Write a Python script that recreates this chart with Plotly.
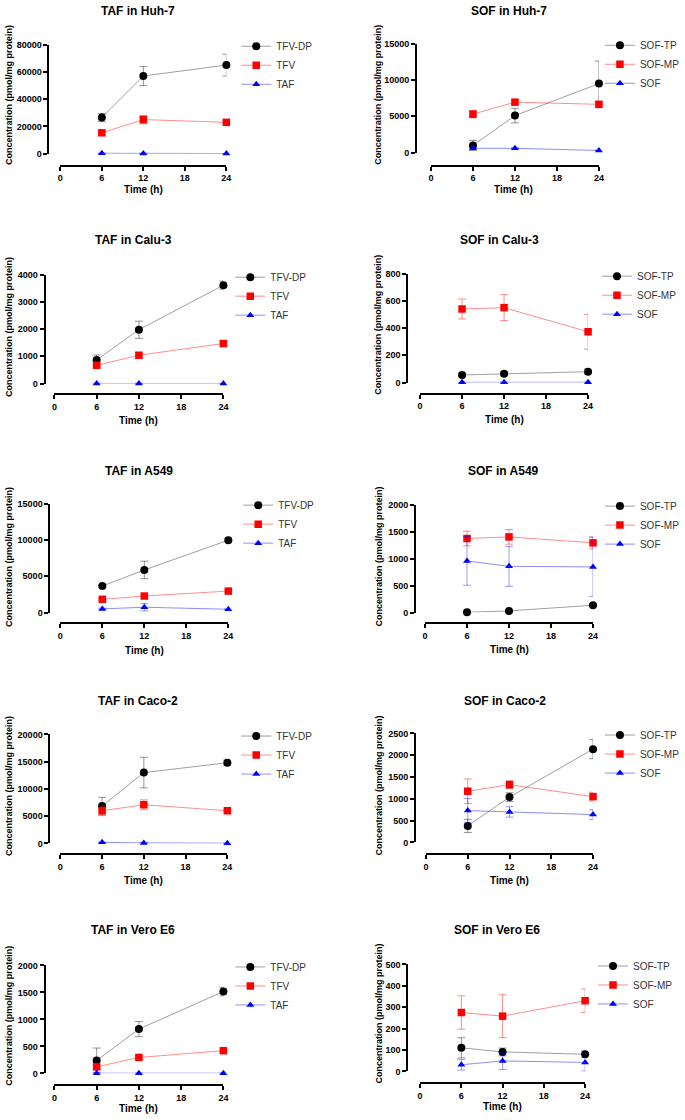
import plotly.graph_objects as go

W, H = 685, 1120
FONT = "Liberation Sans, Arial, sans-serif"

# ---------------- data ----------------
TIME_H = [6, 12, 24]
X_TICKS = [0, 6, 12, 18, 24]
TAF_SERIES = ["TFV-DP", "TFV", "TAF"]
SOF_SERIES = ["SOF-TP", "SOF-MP", "SOF"]

TITLES = ["TAF in Huh-7", "SOF in Huh-7", "TAF in Calu-3", "SOF in Calu-3",
          "TAF in A549", "SOF in A549", "TAF in Caco-2", "SOF in Caco-2",
          "TAF in Vero E6", "SOF in Vero E6"]
Y_MAX = [80000, 15000, 4000, 800, 15000, 2000, 20000, 2500, 2000, 500]
Y_STEP = [20000, 5000, 1000, 200, 5000, 500, 5000, 500, 500, 100]

# Huh-7
huh7_tfvdp = [26500, 57000, 65000];  huh7_tfvdp_sd = [3000, 7000, 8000]
huh7_tfv = [15300, 25000, 23000];    huh7_tfv_sd = [1500, 3000, 1000]
huh7_taf = [300, 200, 100];          huh7_taf_sd = [100, 100, 50]
huh7_softp = [1000, 5100, 9500];     huh7_softp_sd = [700, 1000, 3100]
huh7_sofmp = [5300, 6950, 6650];     huh7_sofmp_sd = [500, 300, 400]
huh7_sof = [600, 600, 300];          huh7_sof_sd = [80, 60, 50]
# Calu-3
calu3_tfvdp = [870, 1975, 3610];     calu3_tfvdp_sd = [180, 315, 150]
calu3_tfv = [670, 1040, 1470];       calu3_tfv_sd = [60, 100, 100]
calu3_taf = [5, 5, 5];               calu3_taf_sd = [2, 2, 2]
calu3_softp = [56, 65, 80];          calu3_softp_sd = [8, 15, 20]
calu3_sofmp = [540, 550, 373];       calu3_sofmp_sd = [73, 95, 128]
calu3_sof = [2, 2, 2];               calu3_sof_sd = [1, 1, 1]
# A549
a549_tfvdp = [3650, 5860, 9950];     a549_tfvdp_sd = [150, 1200, 200]
a549_tfv = [1820, 2270, 2950];       a549_tfv_sd = [100, 150, 150]
a549_taf = [500, 730, 450];          a549_taf_sd = [100, 500, 50]
a549_softp = [5, 30, 135];           a549_softp_sd = [3, 10, 20]
a549_sofmp = [1370, 1400, 1290];     a549_sofmp_sd = [135, 135, 110]
a549_sof = [955, 855, 845];          a549_sof_sd = [450, 370, 550]
# Caco-2
caco2_tfvdp = [6850, 13000, 14800];  caco2_tfvdp_sd = [1600, 2800, 500]
caco2_tfv = [6000, 7100, 6000];      caco2_tfv_sd = [900, 900, 200]
caco2_taf = [200, 100, 50];          caco2_taf_sd = [50, 30, 20]
caco2_softp = [380, 1040, 2140];     caco2_softp_sd = [150, 100, 220]
caco2_sofmp = [1175, 1325, 1050];    caco2_sofmp_sd = [280, 90, 100]
caco2_sof = [730, 700, 640];         caco2_sof_sd = [280, 120, 110]
# Vero E6
vero_tfvdp = [240, 820, 1515];       vero_tfvdp_sd = [230, 140, 80]
vero_tfv = [120, 295, 420];          vero_tfv_sd = [50, 40, 30]
vero_taf = [3, 3, 3];                vero_taf_sd = [1, 1, 1]
vero_softp = [110, 91, 80];          vero_softp_sd = [47, 18, 15]
vero_sofmp = [275, 258, 330];        vero_sofmp_sd = [78, 100, 55]
vero_sof = [31, 49, 42];             vero_sof_sd = [25, 40, 40]

PANEL_DATA = [
    (TAF_SERIES, [(huh7_tfvdp, huh7_tfvdp_sd), (huh7_tfv, huh7_tfv_sd), (huh7_taf, huh7_taf_sd)]),
    (SOF_SERIES, [(huh7_softp, huh7_softp_sd), (huh7_sofmp, huh7_sofmp_sd), (huh7_sof, huh7_sof_sd)]),
    (TAF_SERIES, [(calu3_tfvdp, calu3_tfvdp_sd), (calu3_tfv, calu3_tfv_sd), (calu3_taf, calu3_taf_sd)]),
    (SOF_SERIES, [(calu3_softp, calu3_softp_sd), (calu3_sofmp, calu3_sofmp_sd), (calu3_sof, calu3_sof_sd)]),
    (TAF_SERIES, [(a549_tfvdp, a549_tfvdp_sd), (a549_tfv, a549_tfv_sd), (a549_taf, a549_taf_sd)]),
    (SOF_SERIES, [(a549_softp, a549_softp_sd), (a549_sofmp, a549_sofmp_sd), (a549_sof, a549_sof_sd)]),
    (TAF_SERIES, [(caco2_tfvdp, caco2_tfvdp_sd), (caco2_tfv, caco2_tfv_sd), (caco2_taf, caco2_taf_sd)]),
    (SOF_SERIES, [(caco2_softp, caco2_softp_sd), (caco2_sofmp, caco2_sofmp_sd), (caco2_sof, caco2_sof_sd)]),
    (TAF_SERIES, [(vero_tfvdp, vero_tfvdp_sd), (vero_tfv, vero_tfv_sd), (vero_taf, vero_taf_sd)]),
    (SOF_SERIES, [(vero_softp, vero_softp_sd), (vero_sofmp, vero_sofmp_sd), (vero_sof, vero_sof_sd)]),
]

# ---------------- styling / geometry (pixels) ----------------
STYLES = [
    dict(color="black", symbol="circle", size=8, line="rgba(0,0,0,0.38)", err="rgba(0,0,0,0.42)"),
    dict(color="#ff0000", symbol="square", size=7.5, line="rgba(255,0,0,0.45)", err="rgba(255,0,0,0.45)"),
    dict(color="#0000ff", symbol="triangle-up", size=7, line="rgba(0,0,255,0.45)", err="rgba(0,0,255,0.4)"),
]

# (yaxis_x, y_top, y_bot, xaxis_y, x0, x24, title_x, title_y, time_x, time_y, ylab_x, ylab_y, leg_x, leg_y1)
GEOM = [
    (46, 40, 150, 162, 58, 226, 137, 6, 142, 186, 6, 91, 258, 48),
    (418, 39, 149, 162, 433, 603, 512, 6, 517, 186, 380, 91, 635, 47),
    (42, 272, 382, 393, 52, 223, 132, 237, 137, 419, 6, 325, 252, 281),
    (409, 271, 381, 392, 422, 592, 502, 237, 507, 418, 380, 323, 623, 280),
    (47, 503, 613, 624, 58, 228, 138, 470, 143, 651, 6, 557, 260, 511),
    (417, 504, 613, 624, 427, 597, 506, 470, 512, 650, 380, 557, 626, 512),
    (47, 736, 846, 857, 58, 227, 137, 702, 142, 883, 6, 788, 258, 744),
    (417, 735, 845, 857, 428, 597, 508, 702, 512, 883, 380, 788, 629, 743),
    (42, 969, 1078, 1090, 52, 223, 132, 933, 137, 1113, 6, 1020, 252, 977),
    (409, 968, 1076, 1088, 422, 589, 500, 933, 505, 1111, 380, 1018, 619, 976),
]
LEGEND_MAX_X = 604  # keep the widest legend ("SOF-MP") inside the page


def px(x):
    return x / W


def py(y):
    return 1 - y / H


fig = go.Figure()
layout = dict(width=W, height=H, margin=dict(l=0, r=0, t=0, b=0),
              paper_bgcolor="white", plot_bgcolor="white", annotations=[])

tick_font = dict(family=FONT, size=9, color="black", weight="bold")

for i, ((names, series), g) in enumerate(zip(PANEL_DATA, GEOM)):
    (yax_x, y_top, y_bot, xax_y, x0, x24, tx, ty, tmx, tmy, ylx, yly, lgx, lgy) = g
    n = i + 1
    xa = "x" if n == 1 else f"x{n}"
    ya = "y" if n == 1 else f"y{n}"
    leg = "legend" if n == 1 else f"legend{n}"
    for name, (vals, sd), st in zip(names, series, STYLES):
        fig.add_trace(go.Scatter(
            x=TIME_H, y=vals, name=name, mode="lines+markers",
            xaxis=xa, yaxis=ya, legend=leg, cliponaxis=False,
            line=dict(color=st["line"], width=1),
            marker=dict(color=st["color"], symbol=st["symbol"], size=st["size"], line=dict(width=0)),
            error_y=dict(type="data", array=sd, visible=True, color=st["err"], thickness=1, width=4),
        ))
    key_x = "xaxis" if n == 1 else f"xaxis{n}"
    key_y = "yaxis" if n == 1 else f"yaxis{n}"
    layout[key_x] = dict(
        domain=[px(x0), px(x24)], range=[0, 24], anchor="free", position=py(xax_y),
        tickvals=X_TICKS, showgrid=False, zeroline=False, showline=True,
        linecolor="black", linewidth=2, ticks="outside", ticklen=4, tickwidth=1.5,
        tickcolor="black", tickfont=tick_font, fixedrange=True,
    )
    layout[key_y] = dict(
        domain=[py(y_bot), py(y_top)], range=[0, Y_MAX[i]], anchor="free", position=px(yax_x),
        dtick=Y_STEP[i], tick0=0, tickformat="d", showgrid=False, zeroline=False, showline=True,
        linecolor="black", linewidth=2, ticks="outside", ticklen=4, tickwidth=1.5,
        tickcolor="black", tickfont=tick_font, fixedrange=True,
    )
    leg_left = min(lgx - 22, LEGEND_MAX_X)
    layout[leg] = dict(
        x=px(leg_left), y=py(lgy - 21), xanchor="left", yanchor="top",
        bgcolor="rgba(0,0,0,0)", borderwidth=0, itemwidth=30,
        font=dict(family=FONT, size=10, color="#333333"),
    )
    layout["annotations"] += [
        dict(text=TITLES[i], x=px(tx), y=py(ty), xref="paper", yref="paper",
             xanchor="center", yanchor="middle", showarrow=False,
             font=dict(family=FONT, size=12, color="black", weight="bold")),
        dict(text="Time (h)", x=px(tmx), y=py(tmy), xref="paper", yref="paper",
             xanchor="center", yanchor="middle", showarrow=False,
             font=dict(family=FONT, size=10, color="black", weight="bold")),
        dict(text="Concentration (pmol/mg protein)", x=px(ylx), y=py(yly), xref="paper", yref="paper",
             xanchor="center", yanchor="middle", textangle=-90, showarrow=False,
             font=dict(family=FONT, size=9, color="black", weight="bold")),
    ]

fig.update_layout(**layout)
fig.write_html("out.html", config={"displayModeBar": False},
               post_script="document.body.style.margin='0px';document.body.style.overflow='hidden';")
